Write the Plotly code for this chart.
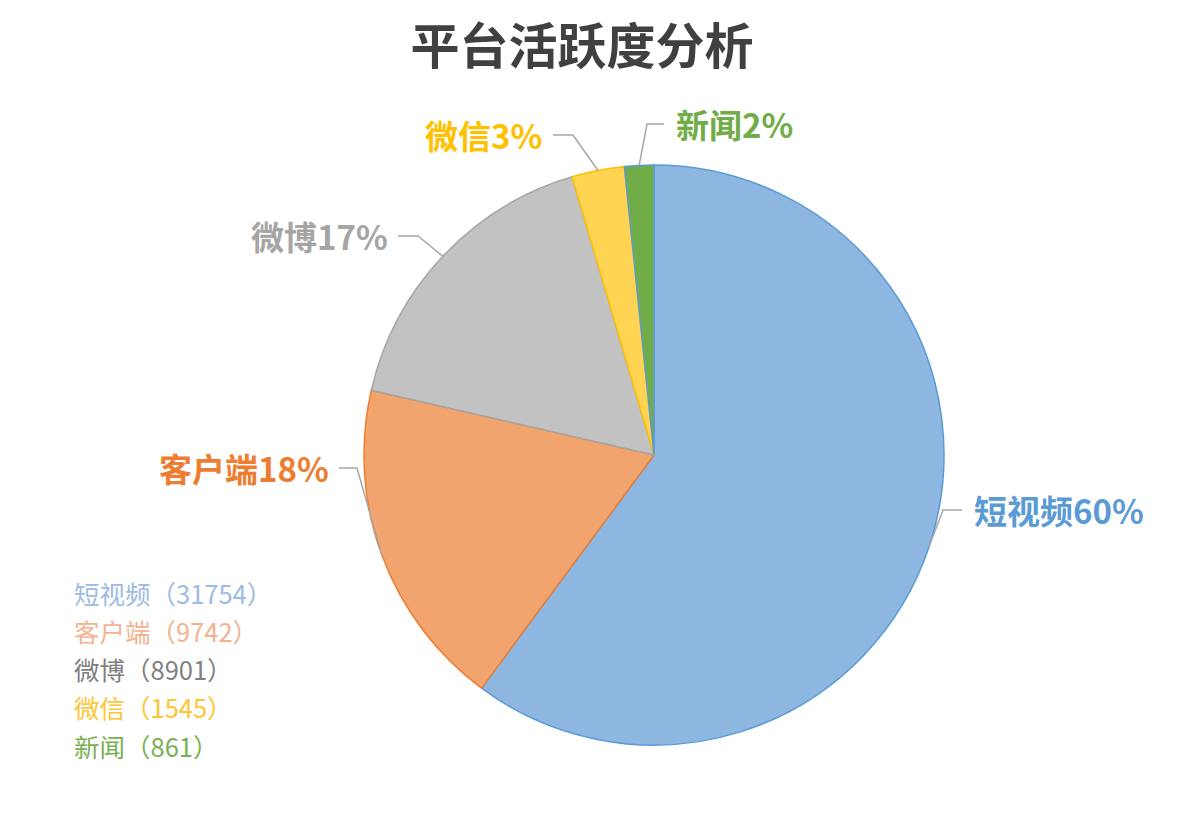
import math
import plotly.graph_objects as go

# data
platforms = ["短视频", "客户端", "微博", "微信", "新闻"]
users = [31754, 9742, 8901, 1545, 861]

# styling
slice_colors = ["#8db6e1", "#f2a46e", "#c2c2c2", "#ffd453", "#70ad47"]
edge_colors = ["#5b9bd5", "#ed7d31", "#a5a5a5", "#ffc000", "#5b9bd5"]
label_colors = ["#5b9bd5", "#ed7d31", "#a5a5a5", "#ffc000", "#70ad47"]
legend_colors = ["#9dbbe3", "#f3b38f", "#808080", "#ffc533", "#78b051"]

W, H = 1200, 819
OFF = 8  # page body margin shifts the plot by this much
# pie box in pixels (as seen on the page)
cx, cy, R = 654, 455, 290
dom_x = [(cx - OFF - R) / W, (cx - OFF + R) / W]
dom_y = [1 - (cy - OFF + R) / H, 1 - (cy - OFF - R) / H]

# label anchor (text x, text y, xanchor) and elbow of the leader line, pixels
label_pos = [
    (972, 510, "left", 943, 962),
    (331, 468, "right", 357, 339),
    (390, 236, "right", 418, 398),
    (544, 135, "right", 573, 553),
    (674, 124, "left", 647, 664),
]


def px(x, y):
    return (x - OFF) / W, 1 - (y - OFF) / H


fig = go.Figure(go.Pie(
    labels=platforms,
    values=users,
    sort=False,
    direction="clockwise",
    rotation=0,
    textinfo="none",
    hoverinfo="label+value+percent",
    marker=dict(colors=slice_colors, line=dict(color=edge_colors, width=1.5)),
    domain=dict(x=dom_x, y=dom_y),
    showlegend=False,
))

total = sum(users)
annotations = []
shapes = []
cum = 0
for i, (name, v) in enumerate(zip(platforms, users)):
    mid = (cum + v / 2) / total
    cum += v
    ang = 2 * math.pi * mid
    ex, ey = cx + R * math.sin(ang), cy - R * math.cos(ang)
    tx, ty, anchor, elbow_x, end_x = label_pos[i]
    pct = round(v / total * 100)
    annotations.append(dict(
        x=px(tx, ty)[0], y=px(tx, ty)[1], xref="paper", yref="paper",
        text=f"<b>{name}{pct}%</b>", showarrow=False, xanchor=anchor, yanchor="middle",
        font=dict(size=33, color=label_colors[i], family="Noto Sans CJK SC"),
    ))
    p0, p1, p2 = px(end_x, ty), px(elbow_x, ty), px(ex, ey)
    shapes.append(dict(
        type="path", xref="paper", yref="paper",
        path=f"M {p0[0]} {p0[1]} L {p1[0]} {p1[1]} L {p2[0]} {p2[1]}",
        line=dict(color="#a6a6a6", width=1.5),
    ))

# legend text on the lower left
for i, (name, v) in enumerate(zip(platforms, users)):
    lx, ly = px(72, 592 + 38.3 * i)
    annotations.append(dict(
        x=lx, y=ly, xref="paper", yref="paper",
        text=f"{name}（{v}）", showarrow=False, xanchor="left", yanchor="middle",
        font=dict(size=25.5, color=legend_colors[i], family="Noto Sans CJK SC"),
    ))

tx, ty = px(582, 47)
fig.update_layout(
    width=W, height=H,
    margin=dict(l=0, r=0, t=0, b=0),
    paper_bgcolor="white",
    plot_bgcolor="white",
    title=dict(text="<b>平台活跃度分析</b>", x=tx, xanchor="center", y=ty, yanchor="middle",
               font=dict(size=49, color="#404040", family="Noto Sans CJK SC")),
    annotations=annotations,
    shapes=shapes,
)

fig.write_html("out.html")
